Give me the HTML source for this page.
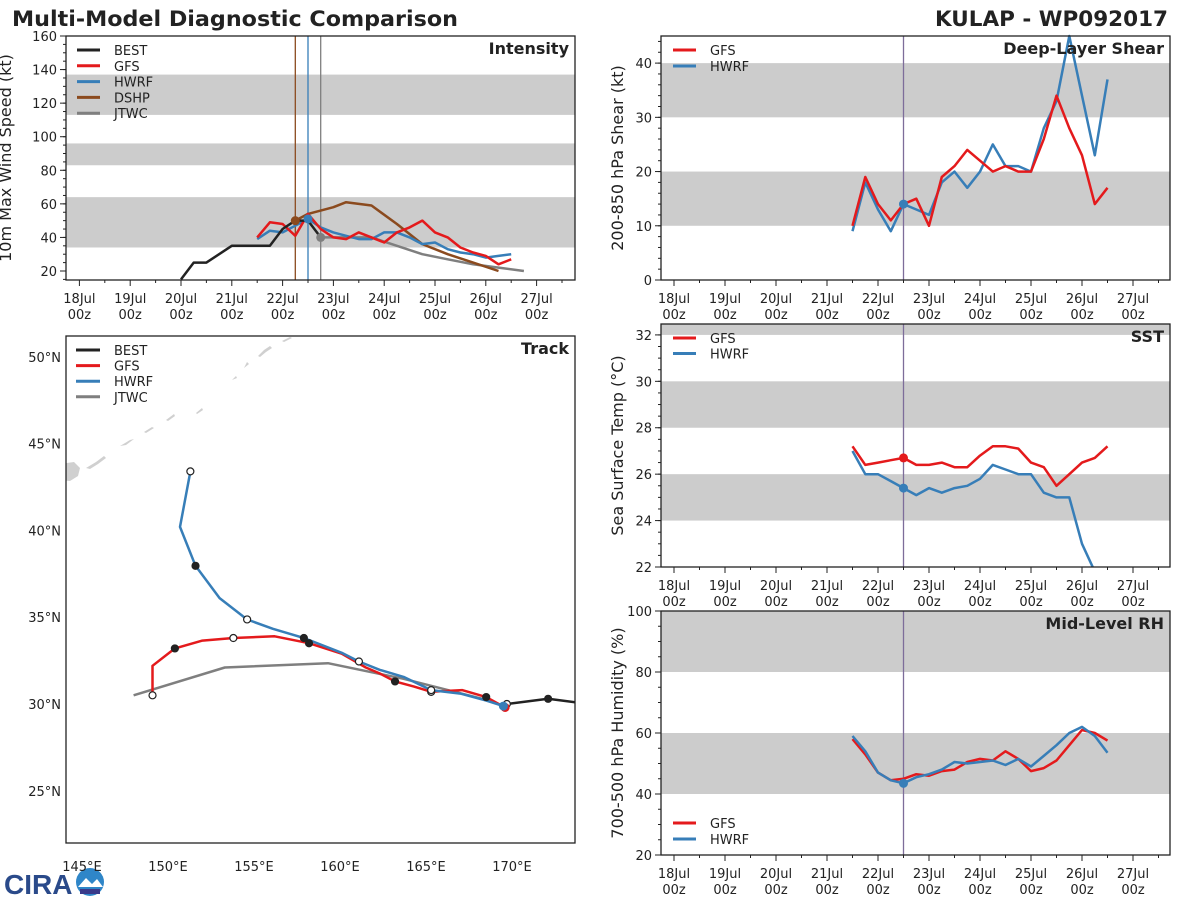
<!DOCTYPE html>
<html><head><meta charset="utf-8"><style>
html,body{margin:0;padding:0;background:#fff;}
svg{display:block;font-family:"DejaVu Sans","Liberation Sans",sans-serif;}
</style></head><body>
<svg id="chart" width="1200" height="900" viewBox="0 0 1200 900" xmlns="http://www.w3.org/2000/svg">
<text x="12" y="26" font-size="21" font-weight="bold" fill="#222" textLength="446" lengthAdjust="spacingAndGlyphs">Multi-Model Diagnostic Comparison</text>
<text x="935" y="26" font-size="21" font-weight="bold" fill="#222" textLength="233" lengthAdjust="spacingAndGlyphs">KULAP - WP092017</text>
<g>
<text x="4" y="894" font-size="28" font-weight="bold" fill="#2a4a8a" font-family="Liberation Sans, sans-serif">CIRA</text>
<circle cx="90" cy="882" r="14" fill="#2f86c8"/>
<path d="M78 887 L86 878 L92 884 L97 879 L103 887 Z" fill="#fff"/>
<rect x="80" y="889" width="20" height="5" fill="#3a3a8a"/>
</g>
<g id="root"></g>
</svg>
<script>
// ---------- DATA ----------
const dayTickLabels = ["18Jul","19Jul","20Jul","21Jul","22Jul","23Jul","24Jul","25Jul","26Jul","27Jul"];
// intensity (days since 18Jul 00z)
const bestT = [2.0,2.25,2.5,3.0,3.25,3.5,3.75,4.0,4.25,4.5,4.75];
const bestV = [15,25,25,35,35,35,35,45,50,50,40];
const modelT = [3.5,3.75,4.0,4.25,4.5,4.75,5.0,5.25,5.5,5.75,6.0,6.25,6.5,6.75,7.0,7.25,7.5,7.75,8.0,8.25,8.5];
const gfsV  = [40,49,48,41,54,45,40,39,43,40,37,43,46,50,43,40,34,31,29,24,27];
const hwrfV = [39,44,43,47,51,46,43,41,39,39,43,43,40,36,37,33,31,30,28,29,30];
const dshpT = [4.25,4.5,5.0,5.25,5.75,6.25,6.75,7.25,7.75,8.25];
const dshpV = [50,54,58,61,59,48,36,30,25,20];
const jtwcT = [4.75,5.25,5.75,6.25,6.75,7.25,7.75,8.25,8.75];
const jtwcV = [40,40,40,35,30,27,24,22,20];
const intTicks = [20,40,60,80,100,120,140,160];
// shear
const shearGfs  = [10,19,14,11,14,15,10,19,21,24,22,20,21,20,20,26,34,28,23,14,17];
const shearHwrf = [9,18,13,9,14,13,12,18,20,17,20,25,21,21,20,28,33,45,34,23,37];
const shearTicks = [0,10,20,30,40];
// sst
const sstGfs  = [27.2,26.4,26.5,26.6,26.7,26.4,26.4,26.5,26.3,26.3,26.8,27.2,27.2,27.1,26.5,26.3,25.5,26.0,26.5,26.7,27.2];
const sstHwrfT = [3.5,3.75,4.0,4.25,4.5,4.75,5.0,5.25,5.5,5.75,6.0,6.25,6.5,6.75,7.0,7.25,7.5,7.75,8.0,8.25];
const sstHwrf = [27.0,26.0,26.0,25.7,25.4,25.1,25.4,25.2,25.4,25.5,25.8,26.4,26.2,26.0,26.0,25.2,25.0,25.0,23.0,21.8];
const sstTicks = [22,24,26,28,30,32];
// rh
const rhGfs  = [58,53,47,44.5,45,46.5,46,47.5,48,50.5,51.5,51,54,51.5,47.5,48.5,51,56,61,60,57.5];
const rhHwrf = [59,54,47,44.5,43.5,45.5,46.5,48,50.5,50,50.5,51,49.5,51.5,49,52.5,56,60,62,59,53.5];
const rhTicks = [20,40,60,80,100];
// track (lon °E, lat °N)
const trkBestLon = [169.7,172.1,173.7];
const trkBestLat = [30.0,30.3,30.1];
const trkGfsLon = [169.6,168.5,167.1,165.3,164.3,163.2,162.3,161.5,160.1,158.2,156.2,153.8,152.0,150.4,149.1,149.1];
const trkGfsLat = [29.8,30.4,30.8,30.7,31.0,31.3,31.76,32.1,32.9,33.5,33.9,33.8,33.65,33.2,32.2,30.5];
const trkHwrfLon = [169.5,168.5,167.0,165.3,163.7,162.3,161.1,160.1,157.9,156.1,154.6,153.0,151.6,150.7,151.3];
const trkHwrfLat = [29.88,30.2,30.6,30.8,31.56,31.97,32.45,32.95,33.8,34.33,34.87,36.1,37.96,40.2,43.4];
const trkJtwcLon = [168.5,163.7,159.3,153.3,148.0];
const trkJtwcLat = [30.24,31.45,32.35,32.1,30.5];
const lonTicks = [145,150,155,160,165,170];
const latTicks = [25,30,35,40,45,50];

const C = {red:"#e41a1c", blue:"#377eb8", brown:"#8b4a1e", gray:"#7f7f7f", black:"#222", band:"#cccccc", axis:"#222"};
const NS = "http://www.w3.org/2000/svg";
const root = document.getElementById('root');
function mk(tag, attrs, parent){const e=document.createElementNS(NS,tag);for(const k in attrs)e.setAttribute(k,attrs[k]);(parent||root).appendChild(e);return e;}

function panel(name, L, T, R, B, x0, dayW, ymin, ymax){
  const g = mk('g',{});
  
  
  const sx = d => x0 + d*dayW;
  const sy = v => B - (v-ymin)/(ymax-ymin)*(B-T);
  return {g,sx,sy,L,T,R,B};
}
function bands(p, list){
  list.forEach(b=>{
    const r = mk('rect',{x:p.L,y:p.sy(b[1]),width:p.R-p.L,height:p.sy(b[0])-p.sy(b[1]),fill:C.band},p.g);
    
    
  });
}
function frame(p){
  const r = mk('rect',{x:p.L,y:p.T,width:p.R-p.L,height:p.B-p.T,fill:'none',stroke:C.axis,'stroke-width':1.3},p.g);
  
  
}
function xAxis(p){
  for(let i=0;i<dayTickLabels.length;i++){
    const x=p.sx(i);
    mk('line',{x1:x,y1:p.B,x2:x,y2:p.B+6,stroke:C.axis,'stroke-width':1},p.g);
    const t = mk('text',{x:x,y:p.B+23,'font-size':13,'text-anchor':'middle',fill:'#222'},p.g);
    t.textContent = dayTickLabels[i];
    
    
    const t2 = mk('text',{x:x,y:p.B+39,'font-size':13,'text-anchor':'middle',fill:'#222'},p.g);
    t2.textContent = '00z';
    
    
  }
  for(let d=-0.25; d<10; d+=0.25){
    if(Math.abs(d-Math.round(d))<0.01) continue;
    const x=p.sx(d); if(x<p.L||x>p.R) continue;
    if(Math.abs((d*2)-Math.round(d*2))>0.01) continue;
    mk('line',{x1:x,y1:p.B,x2:x,y2:p.B+3,stroke:C.axis,'stroke-width':1},p.g);
  }
}
function yAxis(p, ticks, minorStep, fmt, label, labelX){
  ticks.forEach(v=>{
    const y=p.sy(v);
    mk('line',{x1:p.L-6,y1:y,x2:p.L,y2:y,stroke:C.axis},p.g);
    const t = mk('text',{x:p.L-9,y:y+5,'font-size':13,'text-anchor':'end',fill:'#222'},p.g);
    t.textContent = fmt(v);
    
    
  });
  for(let v=ticks[0]-minorStep*10; v<=ticks[ticks.length-1]+minorStep*10; v+=minorStep){
    const y=p.sy(v); if(y<p.T-0.5||y>p.B+0.5) continue;
    mk('line',{x1:p.L-3,y1:y,x2:p.L,y2:y,stroke:C.axis},p.g);
  }
  const cy=(p.T+p.B)/2;
  const t = mk('text',{x:labelX,y:cy,'font-size':16,'text-anchor':'middle',fill:'#222',transform:`rotate(-90 ${labelX} ${cy})`},p.g);
  t.textContent = label;
  
  
}
function series(p, T, V, color, name, w){
  const pts = T.map((t,i)=>p.sx(t).toFixed(1)+','+p.sy(V[i]).toFixed(1)).join(' ');
  const l = mk('polyline',{points:pts,fill:'none',stroke:color,'stroke-width':w||2.5,'stroke-linejoin':'round'},p.g);
  
  
  return l;
}
function dot(p, t, v, color, name){
  const c = mk('circle',{cx:p.sx(t),cy:p.sy(v),r:4.5,fill:color},p.g);
  
  
}
function vline(p, t, color, name){
  const l = mk('line',{x1:p.sx(t),y1:p.T,x2:p.sx(t),y2:p.B,stroke:color,'stroke-width':1.3},p.g);
  
  
}
function legend(p, items, x, y0, dy){
  items.forEach((it,i)=>{
    const y=y0+i*dy;
    const l = mk('line',{x1:x,y1:y,x2:x+23,y2:y,stroke:it[1],'stroke-width':3},p.g);
    
    
    const t = mk('text',{x:x+37,y:y+5,'font-size':13,fill:'#222'},p.g);
    t.textContent = it[0];
    
    
  });
}
function ptitle(p, txt){
  const t = mk('text',{x:p.R-6,y:p.T+18,'font-size':16,'font-weight':'bold','text-anchor':'end',fill:'#222'},p.g);
  t.textContent = txt;
  
  
}

// ---------- Intensity ----------
{
  const p = panel('intensity-panel',66,36,575,280,79.4,50.8,0,160);
  p.sy = v => 271 - (v-20)/140*235;
  bands(p,[[34,64],[83,96],[113,137]]);
  vline(p,4.25,C.brown,'dshp-init-line');
  vline(p,4.5,C.blue,'hwrf-init-line');
  vline(p,4.75,C.gray,'jtwc-init-line');
  series(p,jtwcT,jtwcV,C.gray,'jtwc-intensity-line');
  series(p,dshpT,dshpV,C.brown,'dshp-intensity-line');
  series(p,modelT,hwrfV,C.blue,'hwrf-intensity-line');
  series(p,modelT,gfsV,C.red,'gfs-intensity-line');
  series(p,bestT,bestV,C.black,'best-intensity-line');
  dot(p,dshpT[0],dshpV[0],C.brown,'dshp-init-marker');
  dot(p,4.5,hwrfV[4],C.blue,'hwrf-init-marker');
  dot(p,jtwcT[0],jtwcV[0],C.gray,'jtwc-init-marker');
  mk('rect',{x:p.L,y:p.B,width:p.R-p.L,height:10,fill:'#fff'},p.g);
  frame(p);
  xAxis(p);
  yAxis(p,intTicks,5,v=>v,'10m Max Wind Speed (kt)',11);
  legend(p,[['BEST',C.black],['GFS',C.red],['HWRF',C.blue],['DSHP',C.brown],['JTWC',C.gray]],77,50,15.8);
  ptitle(p,'Intensity');
}
// ---------- Shear ----------
{
  const p = panel('shear-panel',661,36,1170,280,674,51.0,0,45);
  bands(p,[[10,20],[30,40]]);
  vline(p,4.5,'#7d6d9a','init-time-line');
  series(p,modelT,shearHwrf,C.blue,'hwrf-shear-line');
  series(p,modelT,shearGfs,C.red,'gfs-shear-line');
  dot(p,4.5,14,C.blue,'init-marker');
  frame(p);
  xAxis(p);
  yAxis(p,shearTicks,2,v=>v,'200-850 hPa Shear (kt)',623);
  legend(p,[['GFS',C.red],['HWRF',C.blue]],673,50,16);
  ptitle(p,'Deep-Layer Shear');
}
// ---------- SST ----------
{
  const p = panel('sst-panel',661,324,1170,567,674,51.0,22,32.47);
  bands(p,[[24,26],[28,30],[32,32.47]]);
  vline(p,4.5,'#7d6d9a','init-time-line');
  const cp = mk('clipPath',{id:'sstclip'},p.g);
  mk('rect',{x:p.L,y:p.T,width:p.R-p.L,height:p.B-p.T},cp);
  const s1 = series(p,sstHwrfT,sstHwrf,C.blue,'hwrf-sst-line'); s1.setAttribute('clip-path','url(#sstclip)');
  const s2 = series(p,modelT,sstGfs,C.red,'gfs-sst-line'); s2.setAttribute('clip-path','url(#sstclip)');
  dot(p,4.5,26.7,C.red,'gfs-init-marker');
  dot(p,4.5,25.4,C.blue,'hwrf-init-marker');
  frame(p);
  xAxis(p);
  yAxis(p,sstTicks,0.5,v=>v,'Sea Surface Temp (°C)',623);
  legend(p,[['GFS',C.red],['HWRF',C.blue]],673,338,15.5);
  ptitle(p,'SST');
}
// ---------- RH ----------
{
  const p = panel('rh-panel',661,611,1170,855,674,51.0,20,100);
  bands(p,[[40,60],[80,100]]);
  vline(p,4.5,'#7d6d9a','init-time-line');
  series(p,modelT,rhGfs,C.red,'gfs-rh-line');
  series(p,modelT,rhHwrf,C.blue,'hwrf-rh-line');
  dot(p,4.5,43.5,C.blue,'init-marker');
  frame(p);
  xAxis(p);
  yAxis(p,rhTicks,5,v=>v,'700-500 hPa Humidity (%)',623);
  legend(p,[['GFS',C.red],['HWRF',C.blue]],673,823,16);
  ptitle(p,'Mid-Level RH');
}
// ---------- Track ----------
{
  const L=66,T=336,R=575,B=843;
  const g = mk('g',{});
  
  
  const sx = lon => 82 + (lon-145)*17.2;
  const sy = lat => 704 - (lat-30)*17.36;
  const cp = mk('clipPath',{id:'trkclip'},g);
  mk('rect',{x:L,y:T,width:R-L,height:B-T},cp);
  const inner = mk('g',{'clip-path':'url(#trkclip)'},g);
  const land = mk('g',{fill:'#d0d0d0'},inner);
  
  
  mk('path',{d:'M60 464 L74 462 L80 468 L78 476 L70 481 L60 480 Z'},land);
  mk('path',{d:'M86 468 L96 462 L104 456 L106 458 L98 464 L90 469 Z'},land);
  mk('path',{d:'M120 446 L130 440 L134 439 L126 445 Z'},land);
  mk('path',{d:'M144 432 L152 427 L154 428 L146 433 Z'},land);
  mk('path',{d:'M166 420 L174 414 L175 416 L168 421 Z'},land);
  mk('path',{d:'M196 413 L202 408 L203 410 L197 414 Z'},land);
  mk('path',{d:'M232 380 L236 376 L237 378 Z'},land);
  mk('path',{d:'M244 368 L247 362 L249 364 Z'},land);
  mk('path',{d:'M258 356 L264 350 L270 346 L272 348 L266 352 L260 357 Z'},land);
  mk('path',{d:'M282 341 L290 337 L292 338 L284 342 Z'},land);
  function tr(LON,LAT,color,name){
    const pts = LON.map((v,i)=>sx(v).toFixed(1)+','+sy(LAT[i]).toFixed(1)).join(' ');
    const l = mk('polyline',{points:pts,fill:'none',stroke:color,'stroke-width':2.5,'stroke-linejoin':'round'},inner);
    
    
  }
  function mark(lon,lat,filled,name){
    const c = mk('circle',{cx:sx(lon),cy:sy(lat),r:3.5,fill:filled?'#222':'#fff',stroke:'#222','stroke-width':1.2},inner);
    
    
  }
  tr(trkJtwcLon,trkJtwcLat,C.gray,'jtwc-track');
  tr(trkGfsLon,trkGfsLat,C.red,'gfs-track');
  tr(trkHwrfLon,trkHwrfLat,C.blue,'hwrf-track');
  tr(trkBestLon,trkBestLat,C.black,'best-track');
  [[5,1],[3,0],[9,1],[11,0],[13,1],[15,0],[1,1]].forEach(a=>mark(trkGfsLon[a[0]],trkGfsLat[a[0]],a[1],'gfs-24h-marker'));
  [[3,0],[6,0],[8,1],[10,0],[12,1],[14,0]].forEach(a=>mark(trkHwrfLon[a[0]],trkHwrfLat[a[0]],a[1],'hwrf-24h-marker'));
  mark(trkBestLon[1],trkBestLat[1],1,'best-marker');
  mark(trkBestLon[0],trkBestLat[0],0,'best-marker');
  mk('circle',{cx:sx(169.6),cy:sy(29.8),r:4.5,fill:C.red},inner);
  mk('circle',{cx:sx(169.5),cy:sy(29.88),r:4.5,fill:C.blue},inner);
  const fr = mk('rect',{x:L,y:T,width:R-L,height:B-T,fill:'none',stroke:C.axis,'stroke-width':1.3},g);
  
  
  lonTicks.forEach(v=>{
    const t = mk('text',{x:sx(v),y:871,'font-size':13,'text-anchor':'middle',fill:'#222'},g);
    t.textContent = v+'°E';
    
    
  });
  latTicks.forEach(v=>{
    const t = mk('text',{x:61,y:sy(v)+5,'font-size':13,'text-anchor':'end',fill:'#222'},g);
    t.textContent = v+'°N';
    
    
  });
  const legItems=[['BEST',C.black],['GFS',C.red],['HWRF',C.blue],['JTWC',C.gray]];
  legItems.forEach((it,i)=>{
    const y=350+i*15.6;
    const l = mk('line',{x1:76,y1:y,x2:100,y2:y,stroke:it[1],'stroke-width':3},g);
    
    
    const t = mk('text',{x:114,y:y+5,'font-size':13,fill:'#222'},g);
    t.textContent = it[0];
    
    
  });
  const tt = mk('text',{x:R-6,y:T+18,'font-size':16,'font-weight':'bold','text-anchor':'end',fill:'#222'},g);
  tt.textContent='Track';
  
  
}
</script>
</body></html>
